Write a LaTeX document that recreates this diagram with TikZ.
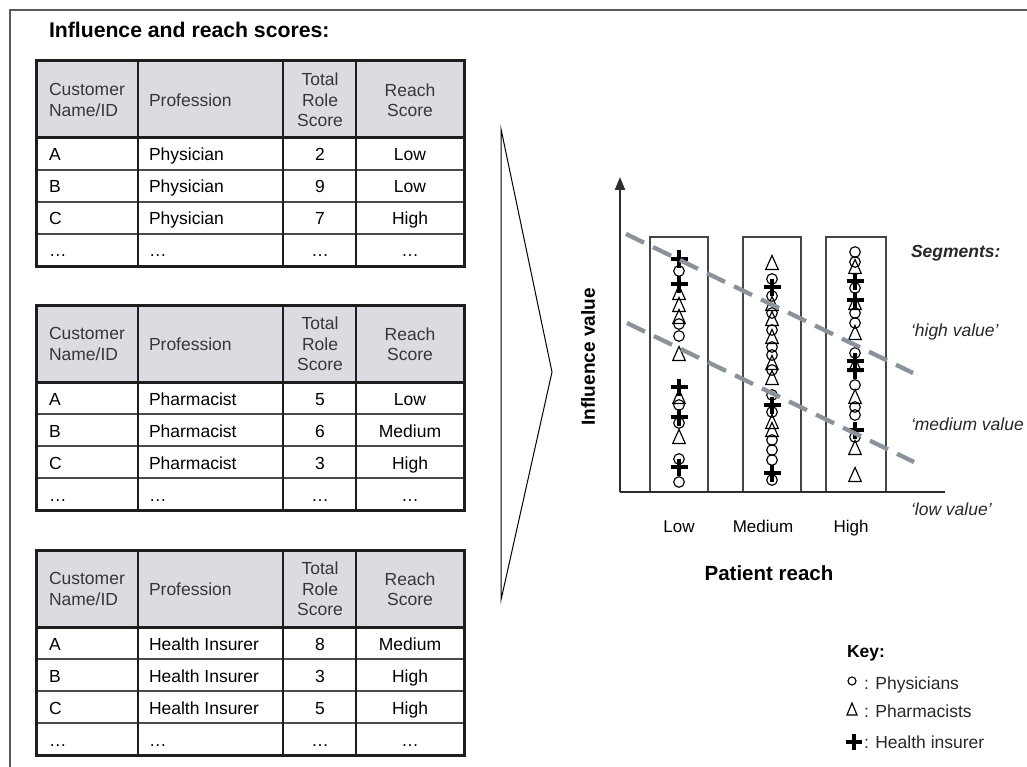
\documentclass[tikz,border=0pt]{standalone}
\usepackage{fontspec}
\setmainfont{Liberation Sans}
\usetikzlibrary{arrows.meta}
\definecolor{hdrfill}{RGB}{218,220,225}
\definecolor{tblline}{RGB}{30,30,30}
\definecolor{hdrtext}{RGB}{55,55,55}
\definecolor{dashgray}{RGB}{138,147,153}
\definecolor{framegray}{RGB}{90,90,90}
\definecolor{boxgray}{RGB}{70,70,70}
\definecolor{axisgray}{RGB}{45,45,45}
\definecolor{segtext}{RGB}{40,40,40}
\tikzset{
  every node/.style={inner sep=0pt, outer sep=0pt},
  hdr/.style={text=hdrtext, font=\fontsize{17.5}{20.5}\selectfont},
  cell/.style={text=black, font=\fontsize{17.5}{21}\selectfont},
  thickline/.style={draw=tblline, line width=3pt},
  colline/.style={draw=tblline, line width=1.5pt},
  rowline/.style={draw=tblline!80, line width=1.2pt},
  symline/.style={draw=black, line width=1.15pt},
  phys/.pic={\draw[symline] (0,0) circle (5.3pt);},
  pharm/.pic={\draw[symline, line join=miter] (0,-7.5) -- (6.3,6.5) -- (-6.3,6.5) -- cycle;},
  ins/.pic={\draw[black, line width=3.3pt] (-8.5,0) -- (8.5,0) (0,-8.5) -- (0,8.5);},
  segdash/.style={draw=dashgray, line width=4.3pt, dash pattern=on 20pt off 10pt},
  colbox/.style={draw=boxgray, line width=1.2pt},
  axislabel/.style={text=black, font=\fontsize{17}{20}\selectfont},
  seglabel/.style={text=segtext, font=\fontsize{17.5}{21}\selectfont\itshape},
}
\newcommand{\infltable}[9]{%
\begin{scope}[shift={(0,#2)}]
  \fill[hdrfill] (36,61) rectangle (464,138);
  \draw[rowline] (36,170) -- (464,170) (36,202) -- (464,202) (36,234) -- (464,234);
  \draw[colline] (138,61) -- (138,266) (283,61) -- (283,266) (356,61) -- (356,266);
  \draw[thickline] (36,138) -- (464,138);
  \draw[thickline] (36,61) rectangle (464,266);
  \node[hdr, anchor=west, align=left] (#1h1) at (49,100) {Customer\\Name/ID};
  \node[hdr, anchor=west] (#1h2) at (149,100) {Profession};
  \node[hdr, align=center] (#1h3) at (320,100) {Total\\Role\\Score};
  \node[hdr, align=center] (#1h4) at (410,100) {Reach\\Score};
  \node[cell, anchor=base west] (#1a1) at (49,161) {A};
  \node[cell, anchor=base west] (#1a2) at (149,161) {#3};
  \node[cell, anchor=base] (#1a3) at (320,161) {#4};
  \node[cell, anchor=base] (#1a4) at (410,161) {#5};
  \node[cell, anchor=base west] (#1b1) at (49,193) {B};
  \node[cell, anchor=base west] (#1b2) at (149,193) {#3};
  \node[cell, anchor=base] (#1b3) at (320,193) {#6};
  \node[cell, anchor=base] (#1b4) at (410,193) {#7};
  \node[cell, anchor=base west] (#1c1) at (49,225) {C};
  \node[cell, anchor=base west] (#1c2) at (149,225) {#3};
  \node[cell, anchor=base] (#1c3) at (320,225) {#8};
  \node[cell, anchor=base] (#1c4) at (410,225) {#9};
  \node[cell, anchor=base west] (#1d1) at (49,257) {…};
  \node[cell, anchor=base west] (#1d2) at (149,257) {…};
  \node[cell, anchor=base] (#1d3) at (320,257) {…};
  \node[cell, anchor=base] (#1d4) at (410,257) {…};
\end{scope}}
\begin{document}
\begin{tikzpicture}[x=1pt, y=-1pt]
\useasboundingbox (0,0) rectangle (1027,767);
\fill[white] (0,0) rectangle (1027,767);
% frame
\draw[framegray, line width=1.2pt] (10,767) -- (10,10) -- (1027,10);
% title
\node[anchor=base west, font=\fontsize{21.2}{25}\selectfont\bfseries, text=black] (title) at (49,38) {Influence and reach scores:};
% tables
\infltable{ta}{0}{Physician}{2}{Low}{9}{Low}{7}{High}
\infltable{tb}{244}{Pharmacist}{5}{Low}{6}{Medium}{3}{High}
\infltable{tc}{489}{Health Insurer}{8}{Medium}{3}{High}{5}{High}
% chevron
\draw[black, line width=1pt, line join=miter] (501,129) -- (552,372) -- (501,600) -- cycle;
% column boxes
\draw[colbox] (650,237) rectangle (708,492);
\draw[colbox] (743,237) rectangle (801,492);
\draw[colbox] (826,237) rectangle (886,492);
% axes
\coordinate (origin) at (620,492);
\coordinate (ytop) at (620,177);
\coordinate (xend) at (945,492);
\draw[axisgray, line width=2pt] (origin) -- (xend);
\draw[axisgray, line width=2pt, -{Stealth[length=13pt, width=10pt, inset=0pt]}] (origin) -- (ytop);
% Low column
\foreach \yy in {271,324,336,405,423,459,482} \pic at (679,\yy) {phys};
\foreach \yy in {293,305,317,354,397,437} \pic at (679,\yy) {pharm};
\foreach \yy in {259,284,387,417,467} \pic at (679,\yy) {ins};
% Medium column
\foreach \yy in {279,296,313,330,347,355,370,395,412,440,450,460,480} \pic at (772,\yy) {phys};
\foreach \yy in {263,304,319,337,363,378,422,430} \pic at (772,\yy) {pharm};
\foreach \yy in {287,405,473} \pic at (772,\yy) {ins};
% High column
\foreach \yy in {252,262,288,313,323,353,385,407,415,437} \pic at (855,\yy) {phys};
\foreach \yy in {267,303,333,365,397,448,475} \pic at (855,\yy) {pharm};
\foreach \yy in {281,300,361,370,430} \pic at (855,\yy) {ins};
% segment dashes
\coordinate (hv1) at (626,234);
\coordinate (hv2) at (913,373);
\coordinate (mv1) at (627,323);
\coordinate (mv2) at (914,462);
\draw[segdash] (hv1) -- (hv2);
\draw[segdash] (mv1) -- (mv2);
% axis labels
\node[axislabel, anchor=base] (lowl) at (679,532) {Low};
\node[axislabel, anchor=base] (medl) at (763,532) {Medium};
\node[axislabel, anchor=base] (highl) at (851,532) {High};
\node[font=\fontsize{20.5}{24}\selectfont\bfseries, anchor=base] (preach) at (769,580) {Patient reach};
\node[font=\fontsize{19}{22}\selectfont\bfseries, rotate=90] (infl) at (588,357) {Influence value};
% segments
\node[seglabel, font=\fontsize{17.5}{21}\selectfont\bfseries\itshape, anchor=base west] (segs) at (911,258) {Segments:};
\node[seglabel, anchor=base west] (hval) at (911,336) {‘high value’};
\node[seglabel, anchor=base west] (mval) at (911,430) {‘medium value};
\node[seglabel, anchor=base west] (lval) at (911,515) {‘low value’};
% key
\node[font=\fontsize{17.5}{21}\selectfont\bfseries, anchor=base west] (keyt) at (847,657) {Key:};
\draw[symline] (852,681) circle (4pt);
\draw[symline, line join=miter] (852,703) -- (857,715) -- (847,715) -- cycle;
\draw[black, line width=3.5pt] (846,742) -- (862,742) (854,734) -- (854,750);
\node[cell, text=segtext, anchor=base west] (k1) at (864,689) {: Physicians};
\node[cell, text=segtext, anchor=base west] (k2) at (864,717) {: Pharmacists};
\node[cell, text=segtext, anchor=base west] (k3) at (864,748) {: Health insurer};
\end{tikzpicture}
\end{document}
